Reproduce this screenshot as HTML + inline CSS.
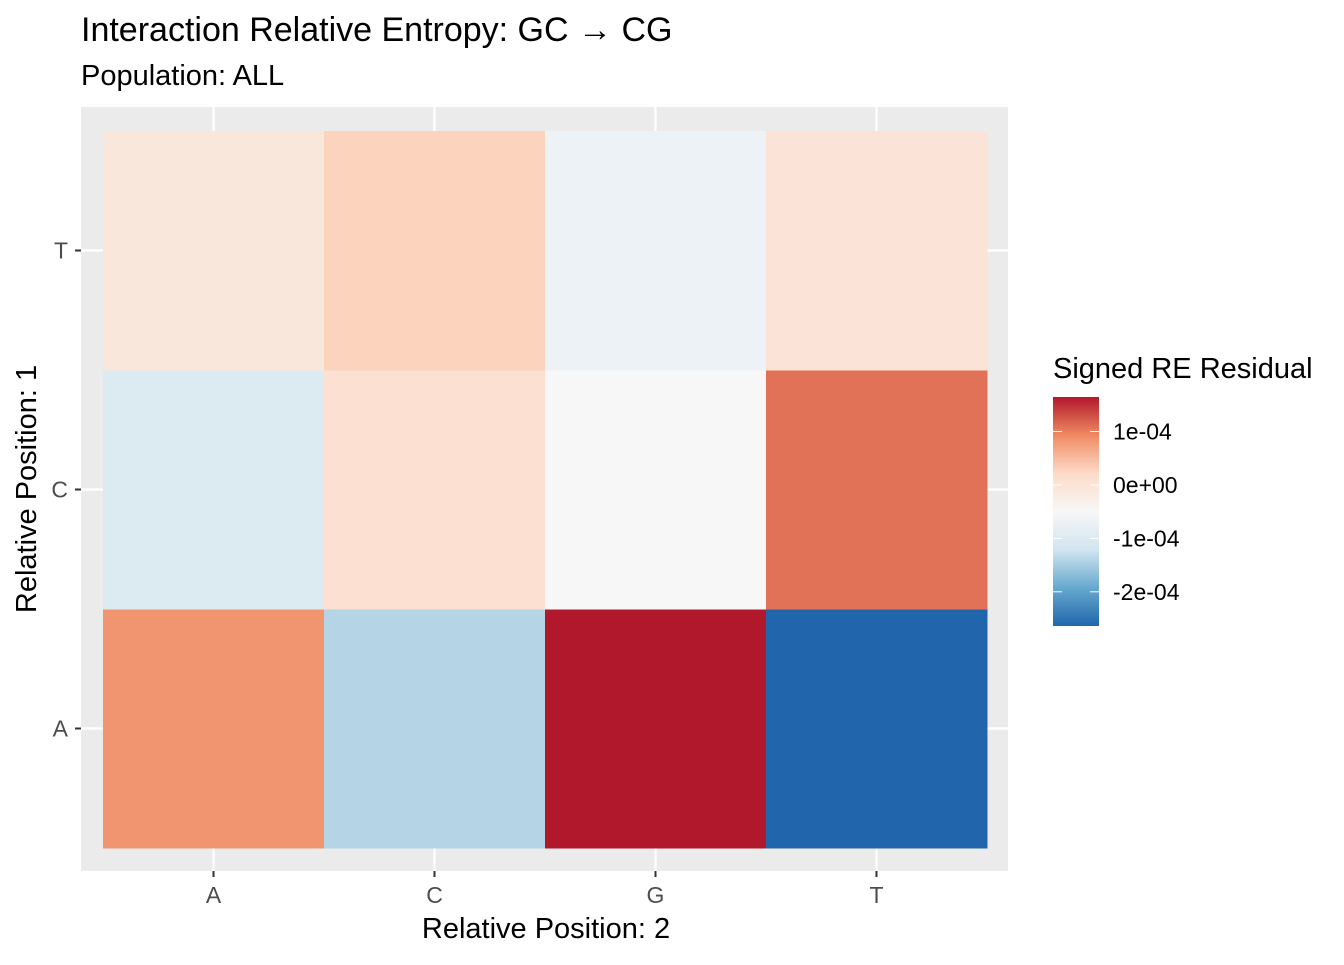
<!DOCTYPE html>
<html><head><meta charset="utf-8"><style>
body{margin:0;background:#fff;font-family:"Liberation Sans",sans-serif}
</style></head><body>
<svg id="c" width="1344" height="960" xmlns="http://www.w3.org/2000/svg" font-family="Liberation Sans, sans-serif">
<text x="81" y="41" font-size="34" fill="#000">Interaction Relative Entropy: GC → CG</text>
<text x="81" y="85" font-size="29" fill="#000">Population: ALL</text>
<rect x="81" y="107" width="927" height="764" fill="#ebebeb"/>
<g id="grid"></g><g id="tiles"></g><g id="axes"></g>
<text x="546" y="938" font-size="29" text-anchor="middle">Relative Position: 2</text>
<text transform="translate(36,489) rotate(-90)" font-size="29" text-anchor="middle">Relative Position: 1</text>
<text x="1053" y="378" font-size="29">Signed RE Residual</text>
<defs><linearGradient id="lg" x1="0" y1="1" x2="0" y2="0">
<stop offset="0" stop-color="#2166AC"/><stop offset="0.1667" stop-color="#67A9CF"/><stop offset="0.3333" stop-color="#D1E5F0"/><stop offset="0.5" stop-color="#F7F7F7"/><stop offset="0.6667" stop-color="#FDDBC7"/><stop offset="0.8333" stop-color="#EF8A62"/><stop offset="1" stop-color="#B2182B"/>
</linearGradient></defs>
<rect x="1053" y="397" width="46" height="229" fill="url(#lg)"/>
<g id="leg"></g>
</svg>
<script>
const xCats=["A","C","G","T"];
const yCats=["A","C","T"];
// values[row y][col x], units 1e-4
const rowA=[0.83,-1.40,1.645,-2.64];
const rowC=[-1.00,0.06,-0.50,1.08];
const rowT=[-0.10,0.28,-0.71,-0.02];
const legendTicks=[1,0,-1,-2];
const legendLabels=["1e-04","0e+00","-1e-04","-2e-04"];
const values=[rowA,rowC,rowT];
const NS="http://www.w3.org/2000/svg";
const all=values.flat();const vmin=Math.min(...all),vmax=Math.max(...all);
const pal=[[33,102,172],[103,169,207],[209,229,240],[247,247,247],[253,219,199],[239,138,98],[178,24,43]];
function color(v){let t=(v-vmin)/(vmax-vmin);t=Math.max(0,Math.min(1,t))*6;const i=Math.min(5,Math.floor(t)),f=t-i;const a=pal[i],b=pal[i+1];return "rgb("+a.map((c,k)=>Math.round(c+(b[k]-c)*f)).join(",")+")";}
const x0=103,cw=221,yBot=848,rh=239;
const xs=i=>x0+cw*i+cw/2, ys=j=>yBot-rh*j-rh/2;
function mk(tag,at,p){const e=document.createElementNS(NS,tag);for(const k in at)e.setAttribute(k,at[k]);p.appendChild(e);return e;}
const grid=document.getElementById('grid'),tiles=document.getElementById('tiles'),axes=document.getElementById('axes'),leg=document.getElementById('leg');
xCats.forEach((c,i)=>{const l=mk('line',{x1:xs(i),x2:xs(i),y1:107,y2:871,stroke:'#fff','stroke-width':2.2},grid);


const t=mk('line',{x1:xs(i),x2:xs(i),y1:871,y2:877,stroke:'#333','stroke-width':2},axes);


const tx=mk('text',{x:xs(i),y:903,'font-size':23,'text-anchor':'middle',fill:'#4d4d4d'},axes);tx.textContent=c;

});
yCats.forEach((c,j)=>{const l=mk('line',{x1:81,x2:1008,y1:ys(j),y2:ys(j),stroke:'#fff','stroke-width':2.2},grid);


const t=mk('line',{x1:75,x2:81,y1:ys(j),y2:ys(j),stroke:'#333','stroke-width':2},axes);


const tx=mk('text',{x:68,y:ys(j)+8,'font-size':23,'text-anchor':'end',fill:'#4d4d4d'},axes);tx.textContent=c;

});
values.forEach((row,j)=>row.forEach((v,i)=>{const r=mk('rect',{x:xs(i)-cw/2,y:ys(j)-rh/2,width:cw+0.5,height:rh+0.5,fill:color(v)},tiles);

}));
const ly=v=>626-(v-vmin)/(vmax-vmin)*229;
legendTicks.forEach((v,k)=>{const y=ly(v);
const a=mk('line',{x1:1053,x2:1062,y1:y,y2:y,stroke:'#fff','stroke-width':1},leg);


const b=mk('line',{x1:1090,x2:1099,y1:y,y2:y,stroke:'#fff','stroke-width':1},leg);


const t=mk('text',{x:1113,y:y+8,'font-size':23,fill:'#000'},leg);t.textContent=legendLabels[k];

});
</script>
</body></html>
